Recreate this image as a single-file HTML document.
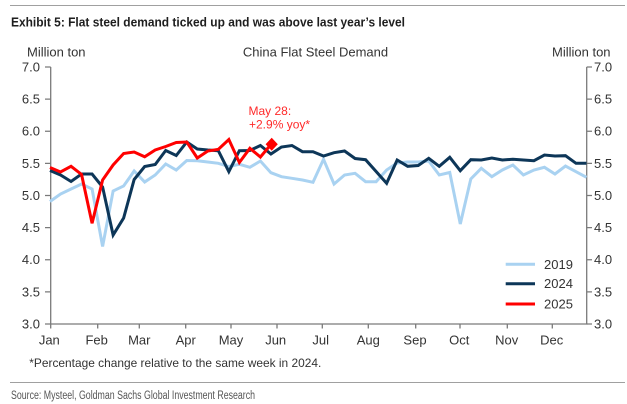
<!DOCTYPE html>
<html><head><meta charset="utf-8"><style>
html,body{margin:0;padding:0;background:#fff;}
svg{display:block;}
text{font-family:"Liberation Sans",sans-serif;}
</style></head><body>
<svg width="627" height="404" viewBox="0 0 627 404" xmlns="http://www.w3.org/2000/svg">
<line x1="10" y1="5.5" x2="625" y2="5.5" stroke="#a0a0a0" stroke-width="1"/>
<text x="11" y="26.3" font-size="13" font-weight="bold" fill="#1e1e1e" textLength="394" lengthAdjust="spacingAndGlyphs">Exhibit 5: Flat steel demand ticked up and was above last year’s level</text>
<text x="27" y="56.3" font-size="13" fill="#333">Million ton</text>
<text x="315.5" y="56.3" font-size="13" fill="#333" text-anchor="middle">China Flat Steel Demand</text>
<text x="552" y="56.3" font-size="13" fill="#333">Million ton</text>

<g stroke="#7a7a7a" stroke-width="1.3" fill="none">
<line x1="50.7" y1="67" x2="50.7" y2="324.5"/>
<line x1="586.7" y1="67" x2="586.7" y2="324.5"/>
<line x1="50" y1="324" x2="587.4" y2="324"/>
<path d="M45 67H50.7M45 99.1H50.7M45 131.25H50.7M45 163.4H50.7M45 195.5H50.7M45 227.6H50.7M45 259.75H50.7M45 291.9H50.7M45 324H50.7"/>
<path d="M586.7 67H592M586.7 99.1H592M586.7 131.25H592M586.7 163.4H592M586.7 195.5H592M586.7 227.6H592M586.7 259.75H592M586.7 291.9H592M586.7 324H592"/>
<path d="M50.7 324V328.5M97.7 324V328.5M139.3 324V328.5M185.7 324V328.5M231 324V328.5M277 324V328.5M322.3 324V328.5M368.3 324V328.5M415.7 324V328.5M460 324V328.5M507.3 324V328.5M552.3 324V328.5"/>
</g>
<g font-size="13" fill="#333" text-anchor="end">
<text x="40" y="71.5">7.0</text><text x="40" y="103.6">6.5</text><text x="40" y="135.7">6.0</text><text x="40" y="167.9">5.5</text><text x="40" y="200">5.0</text><text x="40" y="232.1">4.5</text><text x="40" y="264.2">4.0</text><text x="40" y="296.4">3.5</text><text x="40" y="328.5">3.0</text>
</g>
<g font-size="13" fill="#333">
<text x="594" y="71.5">7.0</text><text x="594" y="103.6">6.5</text><text x="594" y="135.7">6.0</text><text x="594" y="167.9">5.5</text><text x="594" y="200">5.0</text><text x="594" y="232.1">4.5</text><text x="594" y="264.2">4.0</text><text x="594" y="296.4">3.5</text><text x="594" y="328.5">3.0</text>
</g>
<g font-size="13" fill="#333" text-anchor="middle">
<text x="49.3" y="344.5">Jan</text><text x="96.7" y="344.5">Feb</text><text x="139.3" y="344.5">Mar</text><text x="185.7" y="344.5">Apr</text><text x="231" y="344.5">May</text><text x="275.7" y="344.5">Jun</text><text x="320.7" y="344.5">Jul</text><text x="368.3" y="344.5">Aug</text><text x="415" y="344.5">Sep</text><text x="459.3" y="344.5">Oct</text><text x="506.7" y="344.5">Nov</text><text x="551.7" y="344.5">Dec</text>
</g>

<polyline fill="none" stroke="#a9d2f1" stroke-width="3" stroke-linejoin="miter" points="50,201.5 60.52,194 71.04,189 81.56,184 92.08,189 102.6,246.5 113.12,191 123.64,186 134.16,171 144.68,182 155.2,175 165.72,164 176.24,170 186.76,160.5 197.28,160.7 207.8,162 218.32,163.3 228.84,166.5 239.36,164.3 249.88,167.3 260.4,161 270.92,172.7 281.44,176.7 291.96,178.3 302.48,180 313,182.3 323.52,159.3 334.04,184 344.56,175 355.08,173.3 365.6,181.7 376.12,181.7 386.64,170 397.16,163 407.68,162 418.2,162 428.72,161 439.24,175 449.76,172.5 460.28,224 470.8,179 481.32,168.3 491.84,176.7 502.36,170 512.88,165 523.4,175 533.92,170 544.44,167.3 554.96,174 565.48,166 576,171.7 586.52,177.3"/>
<polyline fill="none" stroke="#0d3658" stroke-width="3" stroke-linejoin="miter" points="50,170.5 60.52,175 71.04,181.5 81.56,174 92.08,174 102.6,187 113.12,235 123.64,218 134.16,179.5 144.68,166.5 155.2,164.5 165.72,150.5 176.24,155.5 186.76,142 197.28,149 207.8,150 218.32,150.7 228.84,171.7 239.36,150.7 249.88,150.5 260.4,145.5 270.92,154 281.44,147 291.96,145.5 302.48,151.7 313,151.7 323.52,156 334.04,152.7 344.56,151 355.08,158.5 365.6,159.7 376.12,171.5 386.64,183.3 397.16,160 407.68,166.3 418.2,165.5 428.72,158.3 439.24,166.3 449.76,157.3 460.28,170.7 470.8,159.7 481.32,160 491.84,158 502.36,160 512.88,159.3 523.4,160 533.92,160.7 544.44,155 554.96,156 565.48,155.7 576,163.3 586.52,163.3"/>
<polyline fill="none" stroke="#ff0000" stroke-width="3" stroke-linejoin="miter" points="50,167.5 60.52,172 71.04,166.3 81.56,174.5 92.08,223.3 102.6,180 113.12,165 123.64,153.5 134.16,152 144.68,156.8 155.2,150 165.72,146.5 176.24,142.5 186.76,142 197.28,158 207.8,151 218.32,149.3 228.84,139.5 239.36,162.5 249.88,148.3 260.4,157 270.92,144.5"/>
<polygon points="271.7,137.8 277.8,144.3 271.7,150.8 265.6,144.3" fill="#ff0000"/>
<text x="248.5" y="115" font-size="12" fill="#ff2a2a">May 28:</text>
<text x="249" y="128.3" font-size="12" fill="#ff2a2a">+2.9% yoy*</text>

<g stroke-width="3">
<line x1="505.7" y1="264.3" x2="535" y2="264.3" stroke="#a9d2f1"/>
<line x1="505.7" y1="283.7" x2="535" y2="283.7" stroke="#0d3658"/>
<line x1="505.7" y1="304" x2="535" y2="304" stroke="#ff0000"/>
</g>
<g font-size="13" fill="#333">
<text x="544" y="268.8">2019</text><text x="544" y="288.2">2024</text><text x="544" y="308.5">2025</text>
</g>

<text x="29.3" y="366.8" font-size="12" fill="#333" textLength="292" lengthAdjust="spacingAndGlyphs">*Percentage change relative to the same week in 2024.</text>
<line x1="10" y1="382.5" x2="625" y2="382.5" stroke="#a0a0a0" stroke-width="1"/>
<text x="11" y="399" font-size="11.5" fill="#555" textLength="244" lengthAdjust="spacingAndGlyphs">Source: Mysteel, Goldman Sachs Global Investment Research</text>
</svg>
</body></html>
